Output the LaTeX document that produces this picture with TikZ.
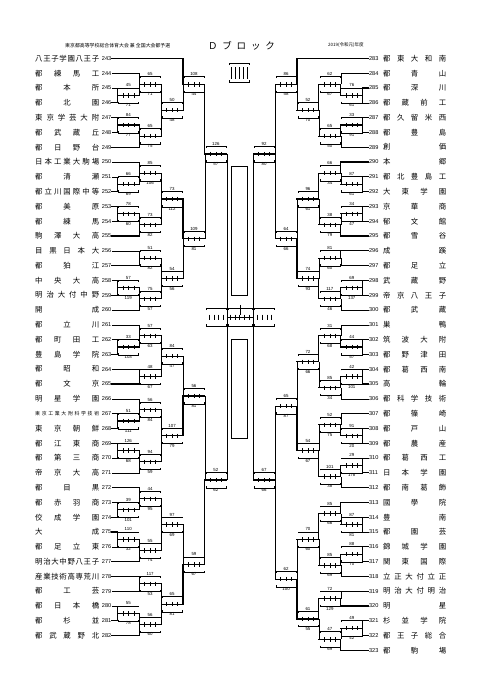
\documentclass[tikz,border=0pt]{standalone}
\usepackage{fontspec}
\setmainfont{Noto Sans CJK JP}
\newfontfamily\numfont{Liberation Sans}
\usetikzlibrary{calc}
\def\sprdaux#1#2{#1\ifx\relax#2\else\hfill\expandafter\sprdaux\expandafter#2\fi}
\newcommand\spreadname[2]{\makebox[#1][s]{\expandafter\sprdaux#2\relax}}
% core of a match: #1 in-column, #2 out-column, #3 top, #4 bottom, #5 winner t/b, #6 top score, #7 bottom score, #8 name
\newcommand\mcore[8]{%
  \coordinate (#8in) at (#1 |- #8mid);
  \coordinate (#8) at (#2 |- #8mid);
  \draw[wt#5] (#3) -| (#8in);
  \draw[wb#5] (#4) -| (#8in);
  \draw[divider] (#8in) -- (#8);
  \foreach \f in {0.25,0.5,0.75} {\draw[tick] ($(#8in)!\f!(#8)$) +(0,-2.2) -- +(0,2.2);}
  \node[sbox] (#8box) at ($(#8in)!.5!(#8)$) {};
  \draw[brk] ([xshift=1pt,yshift=-1.5pt]#8box.north west) -- ([xshift=1pt]#8box.north west) -- ([xshift=-1pt]#8box.north east) -- ([xshift=-1pt,yshift=-1.5pt]#8box.north east);
  \draw[brk] ([xshift=1pt,yshift=1.5pt]#8box.south west) -- ([xshift=1pt]#8box.south west) -- ([xshift=-1pt]#8box.south east) -- ([xshift=-1pt,yshift=1.5pt]#8box.south east);
  \node[slbl, anchor=south] at (#8box.north) {#6};
  \node[slbl, anchor=north] at (#8box.south) {#7};
}
\newcommand\match[8]{\coordinate (#8mid) at ($(#3)!.5!(#4)$);\mcore{#1}{#2}{#3}{#4}{#5}{#6}{#7}{#8}}
\begin{document}
\begin{tikzpicture}[x=1pt,y=-1pt,
  win/.style={line width=1.1pt,line cap=rect},
  lose/.style={line width=0.45pt},
  wtt/.style={win}, wtb/.style={lose}, wbt/.style={lose}, wbb/.style={win},
  divider/.style={line width=1.1pt,line cap=rect},
  tick/.style={line width=0.4pt},
  brk/.style={line width=0.35pt},
  sbox/.style={minimum width=21.9pt, minimum height=15pt, inner sep=0pt},
  slbl/.style={font=\numfont\fontsize{4.4}{5}\selectfont, inner sep=0.5pt},
  tname/.style={font=\fontsize{7.4}{8}\selectfont, inner sep=0pt},
  tnum/.style={font=\numfont\fontsize{5.6}{6}\selectfont, inner sep=0.3pt},
  hdr/.style={font=\fontsize{4.9}{5}\selectfont, inner sep=0pt},
  frame/.style={draw, line width=0.9pt, inner sep=0pt},
]
\fill[white] (0,0) rectangle (481,680);
\useasboundingbox (0,0) rectangle (481,680);
% headers
\node[hdr, anchor=west] (hdrL) at (65,45.5) {東京都高等学校総合体育大会\ 兼\ 全国大会都予選};
\node[hdr, anchor=west, font=\fontsize{4.5}{5}\selectfont] (hdrR) at (328,45.5) {2019(令和元)年度};
\node[font=\fontsize{9.5}{10}\selectfont, inner sep=0pt] (title) at (241.5,45.5) {\makebox[67pt][s]{Ｄ\hfill ブ\hfill ロ\hfill ッ\hfill ク}};
% column guides
\foreach \k in {0,...,5} {\coordinate (cl\k) at ({117.3+21.9*\k},0); \coordinate (cr\k) at ({362.7-21.9*\k},0);}
% left teams
\foreach \n/\s in {243/八王子学園八王子,244/都練馬工,245/都本所,246/都北園,247/東京学芸大附,248/都武蔵丘,249/都日野台,250/日本工業大駒場,251/都清瀬,252/都立川国際中等,253/都美原,254/都練馬,255/駒澤大高,256/目黒日本大,257/都狛江,258/中央大高,259/明治大付中野,260/開成,261/都立川,262/都町田工,263/豊島学院,264/都昭和,265/都文京,266/明星学園,268/東京朝鮮,269/都江東商,270/都第三商,271/帝京大高,272/都目黒,273/都赤羽商,274/佼成学園,275/大成,276/都足立東,277/明治大中野八王子,278/産業技術高専荒川,279/都工芸,280/都日本橋,281/都杉並,282/都武蔵野北} {
  \node[tname, anchor=west] (nm\n) at (35,{58.4+14.8*(\n-243)}) {\spreadname{64pt}{\s}};
  \node[tnum, anchor=east] (T\n) at (111.8,{58.4+14.8*(\n-243)}) {\n};
}
\node[tname, anchor=west, font=\fontsize{4.9}{5}\selectfont] (nm267) at (35,{58.4+14.8*24}) {\spreadname{64pt}{東京工業大附科学技術}};
\node[tnum, anchor=east] (T267) at (111.8,{58.4+14.8*24}) {267};
% right teams
\foreach \n/\s in {283/都東大和南,284/都青山,285/都深川,286/都蔵前工,287/都久留米西,288/都豊島,289/創価,290/本郷,291/都北豊島工,292/大東学園,293/京華商,294/郁文館,295/都雪谷,296/成蹊,297/都足立,298/武蔵野,299/帝京八王子,300/都武蔵,301/巣鴨,302/筑波大附,303/都野津田,304/都葛西南,305/高輪,306/都科学技術,307/都篠崎,308/都戸山,309/都農産,310/都葛西工,311/日本学園,312/都南葛飾,313/國學院,314/豊南,315/都園芸,316/錦城学園,317/関東国際,318/立正大付立正,319/明治大付明治,320/明星,321/杉並学院,322/都王子総合,323/都駒場} {
  \node[tname, anchor=west] (nm\n) at (383,{58.4+14.8*(\n-283)}) {\spreadname{63pt}{\s}};
  \node[tnum, anchor=west] (T\n) at (368.6,{58.4+14.8*(\n-283)}) {\n};
}
% ---------- left upper
\match{cl0}{cl1}{T245.east}{T246.east}{b}{45}{71}{A1}
\match{cl1}{cl2}{T244.east}{A1}{b}{65}{71}{A2}
\match{cl0}{cl1}{T247.east}{T248.east}{t}{84}{77}{A3}
\match{cl1}{cl2}{A3}{T249.east}{b}{65}{75}{A4}
\match{cl2}{cl3}{A2}{A4}{t}{50}{48}{A5}
\match{cl3}{cl4}{T243.east}{A5}{t}{108}{44}{A6}
\match{cl0}{cl1}{T251.east}{T252.east}{b}{66}{69}{B1}
\match{cl1}{cl2}{T250.east}{B1}{b}{85}{106}{B2}
\match{cl0}{cl1}{T253.east}{T254.east}{t}{78}{60}{B3}
\match{cl1}{cl2}{B3}{T255.east}{b}{73}{82}{B4}
\match{cl2}{cl3}{B2}{B4}{b}{73}{112}{B5}
\match{cl1}{cl2}{T256.east}{T257.east}{b}{51}{82}{C1}
\match{cl0}{cl1}{T258.east}{T259.east}{b}{57}{119}{C2}
\match{cl1}{cl2}{C2}{T260.east}{t}{75}{57}{C3}
\match{cl2}{cl3}{C1}{C3}{b}{54}{56}{C4}
\match{cl3}{cl4}{B5}{C4}{t}{109}{81}{B6}
\coordinate (LTmid) at (0,154);
\mcore{cl4}{cl5}{A6}{B6}{t}{126}{57}{LT}
% ---------- left lower
\match{cl0}{cl1}{T262.east}{T263.east}{b}{33}{103}{D1}
\match{cl1}{cl2}{T261.east}{D1}{b}{57}{63}{D2}
\match{cl1}{cl2}{T264.east}{T265.east}{b}{48}{67}{D3}
\match{cl2}{cl3}{D2}{D3}{t}{84}{47}{D4}
\match{cl0}{cl1}{T267.east}{T268.east}{b}{51}{111}{E1}
\match{cl1}{cl2}{T266.east}{E1}{b}{56}{84}{E2}
\match{cl0}{cl1}{T269.east}{T270.east}{t}{126}{68}{E3}
\match{cl1}{cl2}{E3}{T271.east}{t}{94}{59}{E4}
\match{cl2}{cl3}{E2}{E4}{t}{107}{79}{E5}
\match{cl3}{cl4}{D4}{E5}{b}{56}{81}{D5}
\match{cl0}{cl1}{T273.east}{T274.east}{b}{39}{101}{F1}
\match{cl1}{cl2}{T272.east}{F1}{b}{44}{95}{F2}
\match{cl0}{cl1}{T275.east}{T276.east}{t}{110}{32}{F3}
\match{cl1}{cl2}{F3}{T277.east}{b}{55}{74}{F4}
\match{cl2}{cl3}{F2}{F4}{t}{97}{69}{F5}
\match{cl1}{cl2}{T278.east}{T279.east}{t}{117}{53}{G1}
\match{cl0}{cl1}{T280.east}{T281.east}{b}{55}{78}{G2}
\match{cl1}{cl2}{G2}{T282.east}{b}{56}{60}{G3}
\match{cl2}{cl3}{G1}{G3}{b}{65}{81}{G4}
\match{cl3}{cl4}{F5}{G4}{b}{59}{67}{F6}
\coordinate (LBmid) at (0,480);
\mcore{cl4}{cl5}{D5}{F6}{b}{52}{62}{LB}
% ---------- right upper
\match{cr0}{cr1}{T285.west}{T286.west}{t}{76}{61}{H1}
\match{cr1}{cr2}{T284.west}{H1}{b}{62}{67}{H2}
\match{cr0}{cr1}{T287.west}{T288.west}{b}{33}{91}{H3}
\match{cr1}{cr2}{H3}{T289.west}{t}{65}{50}{H4}
\match{cr2}{cr3}{H2}{H4}{t}{52}{70}{H5}
\match{cr3}{cr4}{T283.west}{H5}{t}{86}{58}{H6}
\match{cr0}{cr1}{T291.west}{T292.west}{t}{87}{61}{I1}
\match{cr1}{cr2}{T290.west}{I1}{t}{66}{34}{I2}
\match{cr0}{cr1}{T293.west}{T294.west}{b}{34}{47}{I3}
\match{cr1}{cr2}{I3}{T295.west}{b}{38}{79}{I4}
\match{cr2}{cr3}{I2}{I4}{t}{96}{61}{I5}
\match{cr1}{cr2}{T296.west}{T297.west}{t}{81}{60}{J1}
\match{cr0}{cr1}{T298.west}{T299.west}{b}{69}{137}{J2}
\match{cr1}{cr2}{J2}{T300.west}{t}{117}{46}{J3}
\match{cr2}{cr3}{J1}{J3}{b}{74}{93}{J4}
\match{cr3}{cr4}{I5}{J4}{b}{64}{66}{I6}
\coordinate (RTmid) at (0,154);
\mcore{cr4}{cr5}{H6}{I6}{t}{92}{80}{RT}
% ---------- right lower
\match{cr0}{cr1}{T302.west}{T303.west}{b}{44}{57}{K1}
\match{cr1}{cr2}{T301.west}{K1}{b}{31}{68}{K2}
\match{cr0}{cr1}{T304.west}{T305.west}{b}{42}{101}{K3}
\match{cr1}{cr2}{K3}{T306.west}{t}{85}{34}{K4}
\match{cr2}{cr3}{K2}{K4}{t}{72}{66}{K5}
\match{cr0}{cr1}{T308.west}{T309.west}{t}{91}{20}{L1}
\match{cr1}{cr2}{T307.west}{L1}{b}{52}{75}{L2}
\match{cr0}{cr1}{T310.west}{T311.west}{b}{29}{178}{L3}
\match{cr1}{cr2}{L3}{T312.west}{t}{101}{38}{L4}
\match{cr2}{cr3}{L2}{L4}{b}{54}{67}{L5}
\match{cr3}{cr4}{K5}{L5}{b}{65}{87}{K6}
\match{cr0}{cr1}{T314.west}{T315.west}{t}{87}{81}{M1}
\match{cr1}{cr2}{T313.west}{M1}{t}{85}{66}{M2}
\match{cr0}{cr1}{T316.west}{T317.west}{t}{88}{70}{M3}
\match{cr1}{cr2}{M3}{T318.west}{t}{85}{69}{M4}
\match{cr2}{cr3}{M2}{M4}{t}{70}{60}{M5}
\match{cr1}{cr2}{T319.west}{T320.west}{b}{72}{129}{N1}
\match{cr0}{cr1}{T321.west}{T322.west}{t}{49}{42}{N2}
\match{cr1}{cr2}{N2}{T323.west}{b}{47}{69}{N3}
\match{cr2}{cr3}{N1}{N3}{t}{61}{55}{N4}
\match{cr3}{cr4}{M5}{N4}{b}{62}{100}{M6}
\coordinate (RBmid) at (0,480);
\mcore{cr4}{cr5}{K6}{M6}{t}{67}{66}{RB}
% ---------- centre
\draw[lose] (LT) -- (LB);
\draw[lose] (RT) -- (RB);
\node[frame, minimum width=16pt, minimum height=129pt] (slotA) at (239.7,230.5) {};
\node[frame, minimum width=16pt, minimum height=99pt] (slotB) at (239.7,388.8) {};
\node[minimum width=70.2pt, minimum height=18pt, inner sep=0pt] (CF) at (240,317) {};
\foreach \a/\b in {204.9/226.8,226.8/253.2,253.2/275.1} {
  \draw[brk] (\a+1,310) -- (\a+1,308) -- (\b-1,308) -- (\b-1,310);
  \draw[brk] (\a+1,324) -- (\a+1,326) -- (\b-1,326) -- (\b-1,324);
}
\foreach \x in {209.3,214,218.7,223.3,257.7,262.3,267,271.7} {\draw[line width=0.5pt] (\x,314.5) -- (\x,320);}
\draw[line width=0.8pt] (226.8,317.3) -- (253.2,317.3);
\foreach \x in {230,234.8,239.6,244.4,249.2} {\draw[line width=0.45pt] (\x,314.5) -- (\x,320);}
\draw[line width=0.45pt] (CF.north) ++(0,-3) -- (240,315);
% ---------- legend
\node[minimum width=21pt, minimum height=19pt, inner sep=0pt] (legend) at (239.5,72.5) {};
\draw[brk] (229.5,65) -- (229.5,63.3) -- (249.5,63.3) -- (249.5,65);
\draw[brk] (229.5,80) -- (229.5,81.7) -- (249.5,81.7) -- (249.5,80);
\foreach \x in {231.5,235.5,239.5,243.5,247.5} {\draw[line width=0.5pt] (\x,67) -- (\x,79);}
\end{tikzpicture}
\end{document}
